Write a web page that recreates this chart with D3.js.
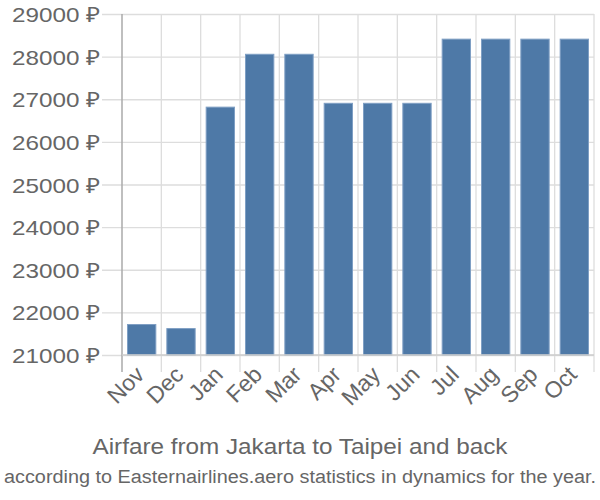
<!DOCTYPE html>
<html>
<head>
<meta charset="utf-8">
<script src="https://cdn.jsdelivr.net/npm/d3@7"></script>
<style>
  body { margin: 0; background: white; }
  text { font-family: "Liberation Sans", Arial, sans-serif; }
</style>
</head>
<body>
<svg id="chart"></svg>
<script>
let months = ['Nov', 'Dec', 'Jan', 'Feb', 'Mar', 'Apr', 'May', 'Jun', 'Jul', 'Aug', 'Sep', 'Oct'];
let prices = [21715, 21620, 26815, 28055, 28055, 26905, 26905, 26905, 28410, 28410, 28410, 28410];
let yTicks = [21000, 22000, 23000, 24000, 25000, 26000, 27000, 28000, 29000];

function createGraph() {
  let width = 600;
  let height = 500;
  let margin = { top: 14, bottom: 145, left: 122, right: 6 };

  let svg = d3.select('#chart');
  svg.selectAll('*').remove();
  svg.attr('width', width).attr('height', height);

  let yScale = d3.scaleLinear()
    .domain([21000, 29000])
    .range([height - margin.bottom, margin.top]);

  let xScale = d3.scaleBand()
    .domain(months)
    .range([margin.left, width - margin.right])
    .paddingInner(0.28)
    .paddingOuter(0.14);

  // vertical grid lines at band edges
  let step = xScale.step();
  let edges = d3.range(months.length + 1).map(i => margin.left + i * step);
  svg.append('g')
    .selectAll('line')
    .data(edges.slice(1))
    .enter()
    .append('line')
    .attr('x1', d => d).attr('x2', d => d)
    .attr('y1', margin.top).attr('y2', height - margin.bottom + 17)
    .attr('stroke', '#dddddd')
    .attr('stroke-width', 1.3);

  // y axis with grid
  let yAxis = svg.append('g')
    .attr('transform', `translate(${margin.left}, 0)`)
    .call(d3.axisLeft(yScale)
      .tickValues(yTicks)
      .tickSize(20)
      .tickFormat(d => d + ' ₽'));
  yAxis.select('.domain').remove();
  yAxis.selectAll('.tick line')
    .attr('x2', width - margin.right - margin.left)
    .attr('x1', -20)
    .attr('stroke', '#dddddd')
    .attr('stroke-width', 1.3);
  yAxis.selectAll('text')
    .attr('x', -22)
    .attr('dy', '0.36em')
    .style('font-size', '21px')
    .style('fill', '#666666')
    .attr('textLength', 88)
    .attr('lengthAdjust', 'spacingAndGlyphs');

  // bars
  svg.selectAll('rect.bar')
    .data(months)
    .enter()
    .append('rect')
    .attr('class', 'bar')
    .attr('x', (d, i) => xScale(d))
    .attr('y', (d, i) => yScale(prices[i]))
    .attr('width', xScale.bandwidth())
    .attr('height', (d, i) => yScale(21000) - yScale(prices[i]))
    .attr('fill', '#4e79a7')
    .attr('stroke', '#7f9fc4')
    .attr('stroke-width', 1);

  // axis lines
  svg.append('line')
    .attr('x1', margin.left).attr('x2', margin.left)
    .attr('y1', margin.top).attr('y2', height - margin.bottom + 17)
    .attr('stroke', '#aaaaaa').attr('stroke-width', 1.5);
  svg.append('line')
    .attr('x1', margin.left).attr('x2', width - margin.right)
    .attr('y1', height - margin.bottom).attr('y2', height - margin.bottom)
    .attr('stroke', '#cccccc').attr('stroke-width', 1.5);

  // x labels
  svg.append('g')
    .selectAll('text')
    .data(months)
    .enter()
    .append('text')
    .attr('transform', d => `translate(${xScale(d) + xScale.bandwidth() / 2 + 4}, ${height - margin.bottom + 21}) rotate(-45)`)
    .style('text-anchor', 'end')
    .style('font-size', '23px')
    .style('fill', '#666666')
    .text(d => d);

  // titles
  svg.append('text')
    .attr('x', width / 2)
    .attr('y', 454)
    .style('text-anchor', 'middle')
    .style('font-size', '22px')
    .style('fill', '#666666')
    .attr('textLength', 415)
    .attr('lengthAdjust', 'spacingAndGlyphs')
    .text('Airfare from Jakarta to Taipei and back');

  svg.append('text')
    .attr('x', width / 2)
    .attr('y', 483)
    .style('text-anchor', 'middle')
    .style('font-size', '18px')
    .style('fill', '#666666')
    .attr('textLength', 592)
    .attr('lengthAdjust', 'spacingAndGlyphs')
    .text('according to Easternairlines.aero statistics in dynamics for the year.');
}

createGraph();
</script>
</body>
</html>
